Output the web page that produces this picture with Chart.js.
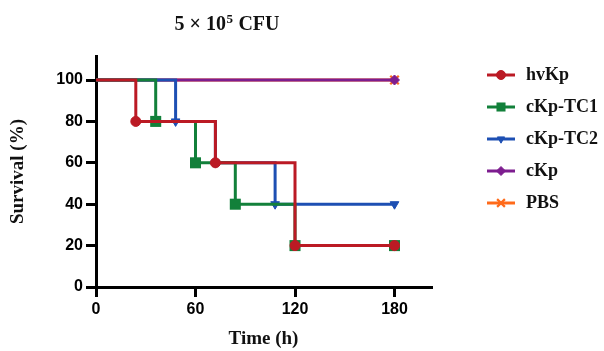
<!DOCTYPE html>
<html>
<head>
<meta charset="utf-8">
<script src="https://cdn.jsdelivr.net/npm/chart.js@4.4.1/dist/chart.umd.min.js"></script>
<style>
  html, body { margin: 0; padding: 0; background: #ffffff; }
  #wrap { width: 604px; height: 351px; }
</style>
</head>
<body>
<div id="wrap"><canvas id="c" width="604" height="351"></canvas></div>
<script>
// ---- data ----
const seriesNames = ['hvKp', 'cKp-TC1', 'cKp-TC2', 'cKp', 'PBS'];
const hvKpTime = [0, 24, 72, 120, 180];
const hvKpSurv = [100, 80, 60, 20, 20];
const tc1Time  = [0, 36, 60, 84, 120, 180];
const tc1Surv  = [100, 80, 60, 40, 20, 20];
const tc2Time  = [0, 48, 72, 108, 180];
const tc2Surv  = [100, 80, 60, 40, 40];
const cKpTime  = [0, 180];
const cKpSurv  = [100, 100];
const pbsTime  = [0, 180];
const pbsSurv  = [100, 100];
const xTicks = [0, 60, 120, 180];
const yTicks = [0, 20, 40, 60, 80, 100];

// ---- styles ----
const colors = ['#bb1a24', '#12803a', '#1d4fb3', '#7d1d8f', '#ff6a1a'];
const styles = [
  {pointStyle: 'circle', radius: 5, rotation: 0, bw: 1, lr: 4.5},
  {pointStyle: 'rect', radius: 7.8, rotation: 0, bw: 0, lr: 6.4},
  {pointStyle: 'triangle', radius: 5, rotation: 180, bw: 1, lr: 4.2},
  {pointStyle: 'rectRot', radius: 5, rotation: 0, bw: 1, lr: 4.5},
  {pointStyle: 'crossRot', radius: 6, rotation: 0, bw: 2.2, lr: 5.5}
];
const timesList = [hvKpTime, tc1Time, tc2Time, cKpTime, pbsTime];
const survList  = [hvKpSurv, tc1Surv, tc2Surv, cKpSurv, pbsSurv];

function toPoints(t, s) { return t.map((x, i) => ({x: x, y: s[i]})); }

const datasets = seriesNames.map((name, k) => {
  const st = styles[k];
  return {
    label: name,
    data: toPoints(timesList[k], survList[k]),
    borderColor: colors[k],
    backgroundColor: colors[k],
    pointBackgroundColor: colors[k],
    pointBorderColor: colors[k],
    borderWidth: 3,
    stepped: 'before',
    fill: false,
    pointStyle: st.pointStyle,
    pointRotation: st.rotation,
    pointBorderWidth: st.bw,
    pointRadius: timesList[k].map((_, i) => i === 0 ? 0 : st.radius),
    clip: false
  };
});

// legend icons: line + marker
function makeIcon(k) {
  const c = document.createElement('canvas');
  c.width = 72; c.height = 18;
  const g = c.getContext('2d');
  g.strokeStyle = colors[k]; g.lineWidth = 3;
  g.beginPath(); g.moveTo(42, 9); g.lineTo(70, 9); g.stroke();
  g.fillStyle = colors[k]; g.strokeStyle = colors[k];
  g.lineWidth = styles[k].bw;
  const st = styles[k];
  if (Chart.helpers && Chart.helpers.drawPoint) {
    Chart.helpers.drawPoint(g, {pointStyle: st.pointStyle, radius: st.lr, rotation: st.rotation, borderWidth: st.bw}, 56, 9);
  } else {
    g.beginPath(); g.arc(56, 9, st.lr, 0, Math.PI * 2); g.fill();
  }
  return c;
}
const icons = seriesNames.map((_, k) => makeIcon(k));

const LEGEND_W = 173;
const legendWidthFix = {
  id: 'legendWidthFix',
  afterInit(chart) {
    const lg = chart.legend;
    if (lg && !lg._wfix) {
      const orig = lg.fit;
      lg.fit = function () { orig.call(this); this.width = LEGEND_W; };
      lg._wfix = true;
    }
  }
};

const titlePlugin = {
  id: 'supTitle',
  afterDraw(chart) {
    const ctx = chart.ctx;
    ctx.save();
    ctx.fillStyle = '#111';
    ctx.textBaseline = 'alphabetic';
    const mainFont = 'bold 20px "Liberation Serif", "Times New Roman", serif';
    const supFont = 'bold 13px "Liberation Serif", "Times New Roman", serif';
    const a = '5 \u00d7 10', s = '5', b = ' CFU';
    ctx.font = mainFont; const wa = ctx.measureText(a).width; const wb = ctx.measureText(b).width;
    ctx.font = supFont; const ws = ctx.measureText(s).width;
    const total = wa + ws + 1 + wb;
    let x = 227 - total / 2;
    const base = 30;
    ctx.font = mainFont; ctx.textAlign = 'left';
    ctx.fillText(a, x, base); x += wa + 0.5;
    ctx.font = supFont; ctx.fillText(s, x, base - 7.5); x += ws + 0.5;
    ctx.font = mainFont; ctx.fillText(b, x, base);
    ctx.restore();
  }
};

const tickFont = {family: '"Liberation Sans", Arial, sans-serif', size: 16, weight: 'bold'};
const titleFont = {family: '"Liberation Serif", "Times New Roman", serif', size: 19, weight: 'bold'};

new Chart(document.getElementById('c'), {
  type: 'line',
  data: {datasets: datasets},
  plugins: [legendWidthFix, titlePlugin],
  options: {
    responsive: false,
    animation: false,
    events: [],
    layout: {padding: {top: 52, left: 0, right: 0, bottom: 0}},
    scales: {
      x: {
        type: 'linear', min: 0, max: 202,
        afterBuildTicks: s => { s.ticks = xTicks.map(v => ({value: v})); },
        afterFit: s => { s.height = 64; },
        grid: {display: true, drawOnChartArea: false, drawTicks: true, tickLength: 10, color: '#000', lineWidth: 3},
        border: {display: true, color: '#000', width: 3},
        ticks: {color: '#000', font: tickFont, padding: 3, maxRotation: 0},
        title: {display: true, text: 'Time (h)', color: '#111', font: titleFont, padding: {top: 0, bottom: 1}}
      },
      y: {
        type: 'linear', min: 0, max: 111.6,
        afterBuildTicks: s => { s.ticks = yTicks.map(v => ({value: v})); },
        afterFit: s => { s.width = 96; },
        grid: {display: true, drawOnChartArea: false, drawTicks: true, tickLength: 10, color: '#000', lineWidth: 3},
        border: {display: true, color: '#000', width: 3},
        ticks: {color: '#000', font: tickFont, padding: 3},
        title: {display: true, text: 'Survival (%)', color: '#111', font: titleFont, padding: {top: 7, bottom: 0}}
      }
    },
    plugins: {
      tooltip: {enabled: false},
      title: {display: true, text: '', font: {size: 4, lineHeight: 1}, padding: 0},
      legend: {
        position: 'right',
        align: 'start',
        labels: {
          usePointStyle: true,
          pointStyleWidth: 72,
          padding: 14,
          color: '#111',
          font: {family: '"Liberation Serif", "Times New Roman", serif', size: 18, weight: 'bold'},
          generateLabels: chart => chart.data.datasets.map((ds, i) => ({
            text: ds.label,
            pointStyle: icons[i],
            fillStyle: colors[i],
            strokeStyle: colors[i],
            lineWidth: 0,
            fontColor: '#111',
            hidden: false,
            datasetIndex: i
          }))
        }
      }
    }
  }
});
</script>
</body>
</html>
